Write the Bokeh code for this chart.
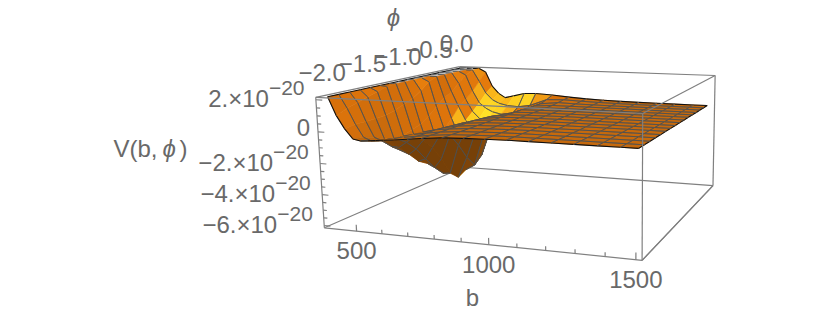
import numpy as np
from bokeh.plotting import figure
from bokeh.models import Range1d
from bokeh.core.properties import value
from bokeh.embed import file_html
from bokeh.resources import INLINE

# ---- data ----
b_values = [400,430,460,490,520,550,580,610,650,700,754,830,907,984,1060,1137,1214,1290,1367,1443,1500]
b_mesh   = [400,460,520,580,650,700,754,830,907,984,1060,1137,1214,1290,1367,1443,1500]
phi_values = [-2.0,-1.867,-1.733,-1.6,-1.467,-1.333,-1.2,-1.067,-0.933,-0.8,-0.667,-0.533,-0.4,-0.267,-0.133,0.0]
# V(b,phi) in units of 1e-20, one list per phi value, clipped at the top of the box
v_phi_00 = [2.15,1.0,0.2,-0.4,-0.5,-0.45,-0.4,-0.35,-0.3,-0.2,-0.1,0.02,0.07,0.1,0.12,0.12,0.12,0.12,0.12,0.12,0.12]
v_phi_01 = [2.15,1.3,0.3,-0.5,-0.7,-0.65,-0.55,-0.45,-0.33,-0.22,-0.1,0.01,0.06,0.09,0.11,0.11,0.11,0.11,0.11,0.11,0.11]
v_phi_02 = [2.15,1.5,0.3,-0.7,-0.9,-0.85,-0.7,-0.5,-0.35,-0.22,-0.1,0.0,0.05,0.08,0.1,0.1,0.1,0.1,0.1,0.1,0.1]
v_phi_03 = [2.15,1.7,0.3,-1.0,-1.5,-1.5,-1.15,-0.75,-0.4,-0.2,-0.1,0.0,0.05,0.08,0.1,0.1,0.1,0.1,0.1,0.1,0.1]
v_phi_04 = [2.15,1.9,0.35,-1.2,-2.0,-2.2,-1.8,-1.2,-0.6,-0.25,-0.1,0.0,0.05,0.07,0.09,0.09,0.09,0.09,0.09,0.09,0.09]
v_phi_05 = [2.15,2.1,0.5,-1.2,-2.4,-2.9,-2.7,-1.9,-0.85,-0.3,-0.1,0.0,0.04,0.07,0.09,0.09,0.09,0.09,0.09,0.09,0.09]
v_phi_06 = [2.15,2.15,0.75,-1.0,-2.5,-3.3,-3.55,-2.9,-1.2,-0.35,-0.1,0.0,0.04,0.07,0.08,0.08,0.08,0.08,0.08,0.08,0.08]
v_phi_07 = [2.15,2.15,1.0,-0.8,-2.4,-3.6,-4.2,-4.15,-2.1,-0.5,-0.15,0.0,0.04,0.06,0.07,0.07,0.07,0.07,0.07,0.07,0.07]
v_phi_08 = [2.15,2.15,1.4,-0.4,-2.1,-3.5,-4.35,-4.7,-3.2,-0.9,-0.2,0.0,0.03,0.05,0.07,0.07,0.07,0.07,0.07,0.07,0.07]
v_phi_09 = [2.15,2.15,1.9,0.1,-1.5,-2.9,-3.8,-4.4,-4.0,-1.4,-0.3,0.0,0.03,0.05,0.06,0.06,0.06,0.06,0.06,0.06,0.06]
v_phi_10 = [2.15,2.15,2.15,0.6,-0.9,-2.1,-3.0,-3.6,-3.5,-1.2,-0.5,0.0,0.03,0.05,0.06,0.06,0.06,0.06,0.06,0.06,0.06]
v_phi_11 = [2.15,2.15,2.15,0.9,-0.2,-1.2,-2.0,-2.5,-2.2,-1.3,-0.5,-0.05,0.03,0.05,0.05,0.05,0.05,0.05,0.05,0.05,0.05]
v_phi_12 = [2.15,2.15,2.15,1.4,0.2,-0.7,-1.2,-1.6,-1.5,-1.2,-0.6,-0.05,0.05,0.05,0.05,0.05,0.05,0.04,0.04,0.04,0.04]
v_phi_13 = [2.15,2.15,2.15,1.9,0.7,-0.2,-0.6,-0.85,-1.0,-0.9,-0.6,-0.05,0.1,0.06,0.05,0.04,0.04,0.04,0.04,0.04,0.04]
v_phi_14 = [2.15,2.15,2.15,2.15,1.3,0.4,-0.1,-0.35,-0.5,-0.55,-0.4,0.1,0.15,0.1,0.07,0.05,0.04,0.04,0.03,0.03,0.03]
v_phi_15 = [2.15,2.15,2.15,2.15,1.9,0.8,0.25,-0.07,0.1,0.33,0.37,0.3,0.2,0.12,0.08,0.05,0.04,0.03,0.03,0.03,0.03]
v_table = [v_phi_00,v_phi_01,v_phi_02,v_phi_03,v_phi_04,v_phi_05,v_phi_06,v_phi_07,
           v_phi_08,v_phi_09,v_phi_10,v_phi_11,v_phi_12,v_phi_13,v_phi_14,v_phi_15]
b_ticks = [500,1000,1500]
phi_ticks = [-2.0,-1.5,-1.0,-0.5,0.0]
phi_labels = ["\u22122.0","\u22121.5","\u22121.0","\u22120.5","0.0"]
z_ticks = [2,0,-2,-4,-6]
z_labels = ["2.\u00d710","0","\u22122.\u00d710","\u22124.\u00d710","\u22126.\u00d710"]
z_exponent = "\u221220"

# ---- box and camera ----
B0,B1 = 370.0,1520.0
P0,P1 = -2.05,0.10
Z0,Z1 = -6.15,2.15
cube = [(0,0,0),(1,0,0),(1,1,0),(0,1,0),(0,0,1),(1,0,1),(1,1,1),(0,1,1)]
scr  = [(322,227),(641,260),(712,185),(465,167),(317,97),(643,113),(715,75),(457,66)]
A=[];R=[]
for (u,v,w),(x,y) in zip(cube,scr):
    A.append([u,v,w,1,0,0,0,0,-x*u,-x*v,-x*w]);R.append(x)
    A.append([0,0,0,0,u,v,w,1,-y*u,-y*v,-y*w]);R.append(y)
C=np.append(np.linalg.lstsq(np.array(A,float),np.array(R,float),rcond=None)[0],1.0).reshape(3,4)
def norm(b,phi,z): return np.array([(b-B0)/(B1-B0),(phi-P0)/(P1-P0),(z-Z0)/(Z1-Z0),1.0])
def proj(b,phi,z):
    h=C@norm(b,phi,z); return h[0]/h[2],h[1]/h[2]
def depth(b,phi,z): return (C@norm(b,phi,z))[2]

GRAY="#808080"; TXT="#696969"
p=figure(width=830,height=318,output_backend="svg",toolbar_location=None,
         x_range=Range1d(0,830),y_range=Range1d(318,0),min_border=0)
p.axis.visible=False; p.grid.visible=False; p.outline_line_color=None
p.background_fill_color="white"; p.border_fill_color="white"

def box_line(a,b_):
    (x0,y0),(x1,y1)=a,b_; return [x0,x1],[y0,y1]
def corner(u,v,w): return proj(B0+u*(B1-B0),P0+v*(P1-P0),Z0+w*(Z1-Z0))
back=[((0,0,0),(0,1,0)),((0,1,0),(1,1,0)),((1,1,0),(1,1,1)),((0,1,0),(0,1,1)),((0,1,1),(1,1,1)),((1,0,0),(1,1,0))]
bl=[box_line(corner(*a),corner(*c)) for a,c in back]
p.multi_line([l[0] for l in bl],[l[1] for l in bl],line_color=GRAY,line_width=1.2)

# ---- surface ----
RAMP_T=[0.30,0.55,0.70,0.78,0.95]
RAMP_C=np.array([[188,102,14],[215,112,10],[228,122,12],[252,190,28],[255,230,40]],float)
L=np.array([0.35,-0.85,0.40]); L=L/np.linalg.norm(L)
def hexc(c): return "#%02x%02x%02x"%tuple(int(round(x)) for x in c)
def ramp(t): return [np.interp(t,RAMP_T,RAMP_C[:,k]) for k in range(3)]
def area(pts):
    a=0
    for i in range(len(pts)):
        x0,y0=pts[i];x1,y1=pts[(i+1)%len(pts)];a+=x0*y1-x1*y0
    return a/2
ref=area([proj(800,-1.5,0),proj(900,-1.5,0),proj(900,-1,0),proj(800,-1,0)])
nr,nc=len(phi_values),len(b_values)
V=np.array(v_table)
def world(i,j): return np.array([(b_values[j]-B0)/(B1-B0)*3,(phi_values[i]-P0)/(P1-P0)*2,(V[i,j]-Z0)/(Z1-Z0)*1.4])
faces=[]
for i in range(nr-1):
    for j in range(nc-1):
        q=[(i,j),(i,j+1),(i+1,j+1),(i+1,j)]
        d=np.mean([depth(b_values[c],phi_values[r],V[r,c]) for r,c in q])
        faces.append((d,i,j,q))
faces.sort(key=lambda f:-f[0])
count={}
def ekey(a,c): return (a,c) if a<c else (c,a)
for _,i,j,q in faces:
    for k in range(4):
        e=ekey(q[k],q[(k+1)%4]); count[e]=count.get(e,0)+1
xs,ys,fc,fa,lc,lw=[],[],[],[],[],[]
for _,i,j,q in faces:
    pts=[proj(b_values[c],phi_values[r],V[r,c]) for r,c in q]
    n=np.cross(world(i,j+1)-world(i,j),world(i+1,j)-world(i,j))+np.cross(world(i+1,j+1)-world(i+1,j),world(i+1,j+1)-world(i,j+1))
    n=n/np.linalg.norm(n)
    if n[2]<0:n=-n
    t=float(n@L)
    under=area(pts)*ref<0
    if all(V[r,c]>=Z1-1e-9 for r,c in q):
        col="#c4c4c4"
    elif under:
        s=float(np.clip((t+0.4)/1.0,0,1))
        col=hexc(np.array([118,64,8])*(1-s)+np.array([165,90,12])*s)
    else:
        col=hexc(ramp(t))
    xs.append([a for a,_b in pts]);ys.append([_b for a,_b in pts]);fc.append(col);fa.append(1.0);lc.append(col);lw.append(0.6)
    for k in range(4):
        a,c=q[k],q[(k+1)%4]; e=ekey(a,c); count[e]-=1
        if count[e]>0: continue
        boundary=(a[0]==c[0] and a[0] in (0,nr-1)) or (a[1]==c[1] and a[1] in (0,nc-1))
        along=(a[0]==c[0])
        mesh=along or (b_values[a[1]] in b_mesh and (under or b_values[a[1]]>=700))
        if not(boundary or mesh): continue
        pa=proj(b_values[a[1]],phi_values[a[0]],V[a]);pc=proj(b_values[c[1]],phi_values[c[0]],V[c])
        xs.append([pa[0],pc[0]]);ys.append([pa[1],pc[1]]);fc.append("#000000");fa.append(0.0)
        lc.append("#111111" if boundary else "#4a4f52");lw.append(1.1 if boundary else 0.7)
p.patches(xs,ys,fill_color=fc,fill_alpha=fa,line_color=lc,line_width=lw)

# ---- front box lines and ticks ----
front=[((0,0,0),(1,0,0)),((0,0,0),(0,0,1)),((0,0,1),(1,0,1)),((1,0,0),(1,0,1)),((0,0,1),(0,1,1)),((1,0,1),(1,1,1)),((1,0,0),(1,1,0))]
fl=[box_line(corner(*a),corner(*c)) for a,c in front]
tx,ty=[],[]
for b in range(500,1501,100):
    l=0.05 if b%500==0 else 0.03
    a=proj(b,P0,Z0);c=proj(b,P0,Z0+l*(Z1-Z0));tx.append([a[0],c[0]]);ty.append([a[1],c[1]])
for k in range(-12,5):
    z=k*0.5
    l=0.022 if k%4==0 else 0.013
    a=proj(B0,P0,z);c=proj(B0+l*(B1-B0),P0,z);tx.append([a[0],c[0]]);ty.append([a[1],c[1]])
p.multi_line([l[0] for l in fl]+tx,[l[1] for l in fl]+ty,line_color=GRAY,line_width=1.2)

# ---- texts ----
F=value("Liberation Sans")
def txt(x,y,s,size,align="center",style="normal"):
    p.text([x],[y],text=[s],text_font=F,text_font_size=value(size),text_color=TXT,
           text_align=align,text_baseline="middle",text_font_style=style)
for b,s in zip(b_ticks,[str(t) for t in b_ticks]):
    x,y=proj(b,P0,Z0); txt(x,y+19.5,s,"24px")
for z,s in zip(z_ticks,z_labels):
    x,y=proj(B0,P0,z)
    if z==0:
        txt(x-8,y-4,s,"24px","right")
    else:
        txt(x-47,y-1,s,"24px","right"); txt(x-47,y-11.5,z_exponent,"21px","left")
for ph,s in zip(phi_ticks,phi_labels):
    x,y=proj(B0,ph,Z1); txt(x+2,y-24,s,"24px")
txt(113,148,"V(b,","24px","left"); txt(162,148,"\u03d5","24px","left","italic"); txt(179,148,")","24px","left")
txt(393,17,"\u03d5","24px","center","italic")
txt(472,297,"b","24px")

open("out.html","w").write(file_html(p,INLINE))
